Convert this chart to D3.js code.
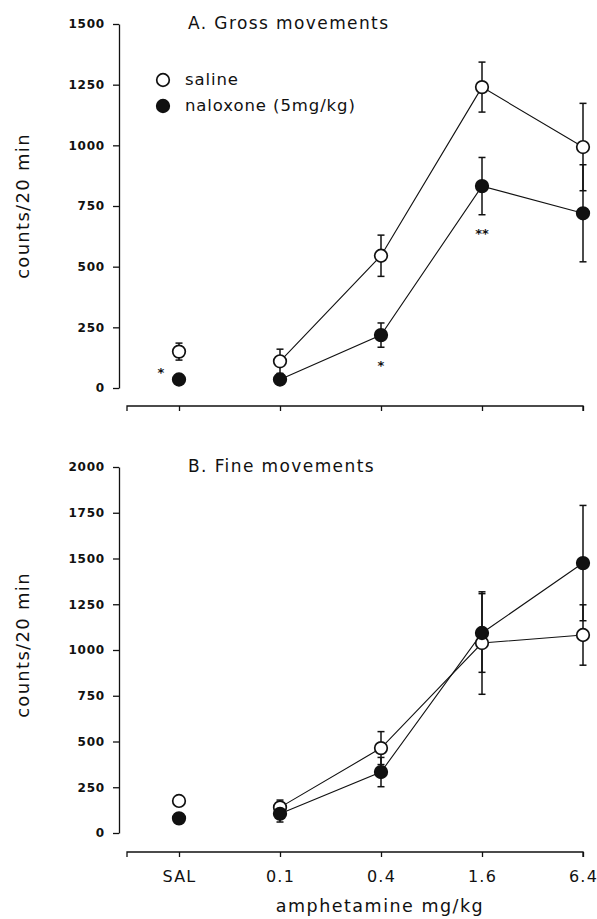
<!DOCTYPE html>
<html>
<head>
<meta charset="utf-8">
<script src="https://cdn.jsdelivr.net/npm/d3@7"></script>
<style>
  body { margin: 0; background: #fff; }
  text { font-family: "DejaVu Sans", sans-serif; fill: #111; }
</style>
</head>
<body>
<div id="chart"></div>
<script>
// doses (x categories)
var doses = ["SAL", "0.1", "0.4", "1.6", "6.4"];

// A. gross movements
var grossSaline = [150, 110, 545, 1240, 993];
var grossSalineErr = [35, 50, 85, 103, 180];
var grossNalox = [35, 35, 218, 832, 720];
var grossNaloxErr = [0, 20, 50, 118, 200];
var grossStars = ["*", "", "*", "**", ""];

// B. fine movements
var fineSaline = [175, 140, 464, 1038, 1082];
var fineSalineErr = [0, 40, 90, 280, 165];
var fineNalox = [80, 105, 333, 1093, 1475];
var fineNaloxErr = [0, 45, 80, 215, 315];

var grossTicks = [0, 250, 500, 750, 1000, 1250, 1500];
var fineTicks = [0, 250, 500, 750, 1000, 1250, 1500, 1750, 2000];

var W = 597, H = 919;
var R = 6.3;
var svg = d3.select("#chart").append("svg")
    .attr("width", W)
    .attr("height", H);

var x = d3.scalePoint().domain(doses).range([179, 583]);

function drawPanel(opt) {
    var y = d3.scaleLinear().domain([0, opt.max]).range([opt.bottom, opt.top]);
    var g = svg.append("g");

    // y axis
    var yAxis = g.append("g")
        .attr("transform", "translate(119,0)")
        .call(d3.axisLeft(y).tickValues(opt.ticks).tickFormat(d3.format("d"))
            .tickSize(6).tickSizeOuter(0).tickPadding(8));
    yAxis.selectAll("path, line").attr("stroke", "#111").attr("stroke-width", 1.3);
    yAxis.selectAll("text")
        .style("font-size", "12px")
        .style("font-weight", "bold")
        .style("letter-spacing", "0.8px")
        .style("font-family", "'DejaVu Sans', sans-serif");

    // x axis
    var xAxis = g.append("g")
        .attr("transform", "translate(0," + opt.axisY + ")")
        .call(d3.axisBottom(x).tickSize(5).tickSizeOuter(0).tickPadding(14));
    xAxis.select(".domain").attr("d", "M127,5V0H" + x("6.4") + "V5");
    xAxis.selectAll("path, line").attr("stroke", "#111").attr("stroke-width", 1.3);
    if (opt.labels) {
        xAxis.selectAll("text")
            .style("font-size", "16px")
            .style("letter-spacing", "1.2px")
            .style("font-family", "'DejaVu Sans', sans-serif");
    } else {
        xAxis.selectAll("text").remove();
    }

    // y label
    g.append("text")
        .attr("transform", "translate(29," + opt.labelY + ") rotate(-90)")
        .attr("text-anchor", "middle")
        .style("font-size", "18px")
        .style("letter-spacing", "1.3px")
        .text("counts/20 min");

    // title
    g.append("text")
        .attr("x", 188)
        .attr("y", opt.top + 5)
        .style("font-size", "17px")
        .style("letter-spacing", "1.4px")
        .text(opt.title);

    var idx = d3.range(1, doses.length);
    var line = d3.line().x(function (i) { return x(doses[i]); });

    var series = [
        { v: opt.saline, e: opt.salineErr, fill: "#fff" },
        { v: opt.nalox, e: opt.naloxErr, fill: "#111" }
    ];

    series.forEach(function (s) {
        g.append("path")
            .datum(idx)
            .attr("fill", "none")
            .attr("stroke", "#111")
            .attr("stroke-width", 1.1)
            .attr("d", line.y(function (i) { return y(s.v[i]); }));
    });

    series.forEach(function (s) {
        var eb = g.append("g");
        doses.forEach(function (d, i) {
            if (!s.e[i]) return;
            var cx = x(d), y1 = y(s.v[i] + s.e[i]), y0 = y(s.v[i] - s.e[i]);
            eb.append("line").attr("x1", cx).attr("x2", cx).attr("y1", y1).attr("y2", y0);
            eb.append("line").attr("x1", cx - 3.5).attr("x2", cx + 3.5).attr("y1", y1).attr("y2", y1);
            eb.append("line").attr("x1", cx - 3.5).attr("x2", cx + 3.5).attr("y1", y0).attr("y2", y0);
        });
        eb.selectAll("line").attr("stroke", "#111").attr("stroke-width", 1.5);
    });

    series.forEach(function (s) {
        g.selectAll(null)
            .data(doses)
            .enter().append("circle")
            .attr("cx", function (d) { return x(d); })
            .attr("cy", function (d, i) { return y(s.v[i]); })
            .attr("r", R)
            .attr("fill", s.fill)
            .attr("stroke", "#111")
            .attr("stroke-width", 1.7);
    });

    if (opt.stars) {
        g.selectAll(null)
            .data(doses)
            .enter().append("text")
            .attr("x", function (d, i) { return d === "SAL" ? x(d) - 18 : x(d); })
            .attr("y", function (d, i) {
                return d === "SAL" ? y(opt.nalox[i]) - 3 : y(opt.nalox[i] - opt.naloxErr[i]) + 23;
            })
            .attr("text-anchor", "middle")
            .style("font-size", "13px")
            .style("font-weight", "bold")
            .text(function (d, i) { return opt.stars[i]; });
    }

    if (opt.legend) {
        var lg = g.append("g");
        var items = [["saline", "#fff"], ["naloxone (5mg/kg)", "#111"]];
        items.forEach(function (it, k) {
            var ly = 80 + k * 26;
            lg.append("circle")
                .attr("cx", 163).attr("cy", ly).attr("r", R)
                .attr("fill", it[1]).attr("stroke", "#111").attr("stroke-width", 1.7);
            lg.append("text")
                .attr("x", 185).attr("y", ly + 5)
                .style("font-size", "16.5px")
                .style("letter-spacing", "0.9px")
                .text(it[0]);
        });
    }
}

drawPanel({
    title: "A. Gross movements",
    max: 1500, ticks: grossTicks, top: 24, bottom: 388, axisY: 406, labelY: 206,
    saline: grossSaline, salineErr: grossSalineErr,
    nalox: grossNalox, naloxErr: grossNaloxErr,
    stars: grossStars, legend: true, labels: false
});

drawPanel({
    title: "B. Fine movements",
    max: 2000, ticks: fineTicks, top: 467, bottom: 833, axisY: 852, labelY: 645,
    saline: fineSaline, salineErr: fineSalineErr,
    nalox: fineNalox, naloxErr: fineNaloxErr,
    stars: null, legend: false, labels: true
});

svg.append("text")
    .attr("x", 380)
    .attr("y", 912)
    .attr("text-anchor", "middle")
    .style("font-size", "17.5px")
    .style("letter-spacing", "1.5px")
    .text("amphetamine mg/kg");
</script>
</body>
</html>
